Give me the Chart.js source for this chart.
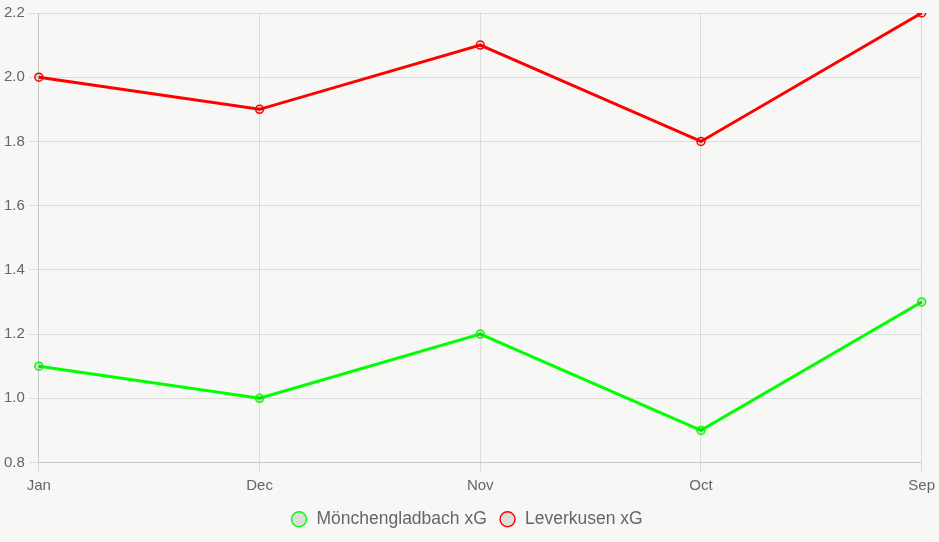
<!DOCTYPE html>
<html>
<head>
<meta charset="utf-8">
<script src="https://cdn.jsdelivr.net/npm/chart.js@4"></script>
<style>
  html, body { margin: 0; padding: 0; background: #f7f7f5; }
  #wrap { width: 939px; height: 542px; }
</style>
</head>
<body>
<div id="wrap"><canvas id="chart"></canvas></div>
<script>
const months = ['Jan', 'Dec', 'Nov', 'Oct', 'Sep'];
const gladbachXG = [1.1, 1.0, 1.2, 0.9, 1.3];
const leverkusenXG = [2.0, 1.9, 2.1, 1.8, 2.2];

Chart.defaults.font.family = '"Liberation Sans", Arial, sans-serif';
Chart.defaults.color = '#666';

new Chart(document.getElementById('chart'), {
  type: 'line',
  data: {
    labels: months,
    datasets: [
      {
        label: 'Mönchengladbach xG',
        data: gladbachXG,
        borderColor: '#00ff00',
        backgroundColor: 'rgba(0,0,0,0.1)',
        borderWidth: 3,
        pointRadius: 4,
        pointBorderWidth: 1.5,
        tension: 0
      },
      {
        label: 'Leverkusen xG',
        data: leverkusenXG,
        borderColor: '#ff0000',
        backgroundColor: 'rgba(0,0,0,0.1)',
        borderWidth: 3,
        pointRadius: 4,
        pointBorderWidth: 1.5,
        tension: 0
      }
    ]
  },
  options: {
    responsive: true,
    maintainAspectRatio: false,
    animation: false,
    layout: { padding: { top: 4, right: 6, left: 0, bottom: 4 } },
    plugins: {
      legend: {
        position: 'bottom',
        labels: { usePointStyle: true, boxWidth: 18, boxHeight: 10.6, padding: 12, font: { size: 17.5 } }
      }
    },
    scales: {
      x: {
        grid: { tickLength: 10 },
        ticks: { padding: 4, font: { size: 15 } }
      },
      y: {
        min: 0.8,
        max: 2.2,
        grid: { tickLength: 10 },
        ticks: { stepSize: 0.2, padding: 4, font: { size: 15 }, callback: v => v.toFixed(1) }
      }
    }
  }
});
</script>
</body>
</html>
